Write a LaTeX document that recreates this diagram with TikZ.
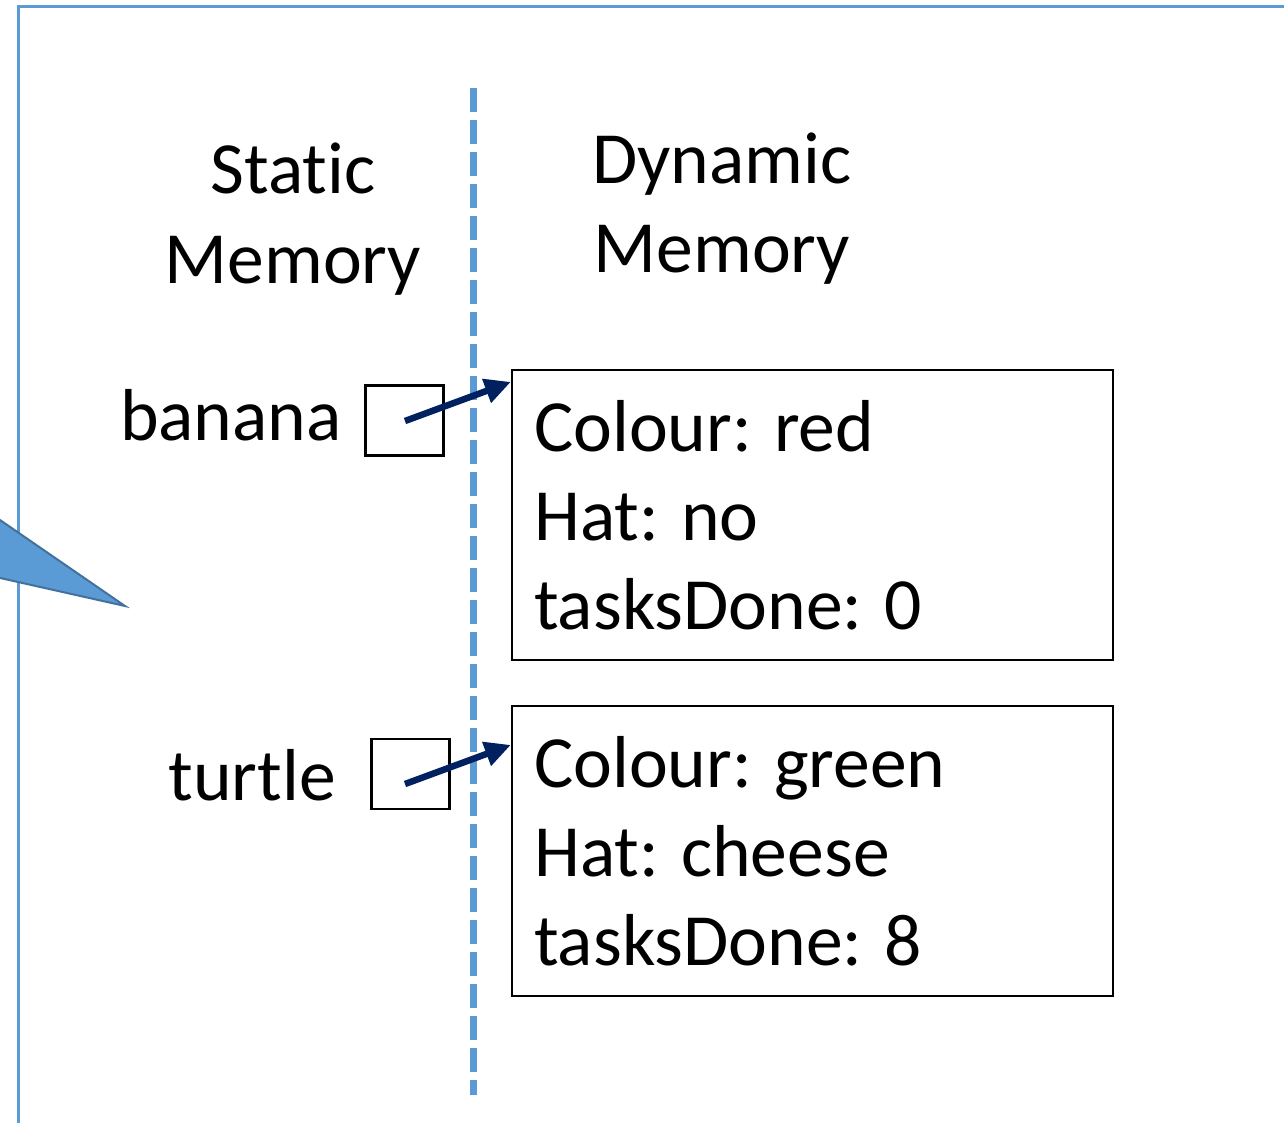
\documentclass[tikz,border=0pt]{standalone}
\usepackage{fontspec}
\setmainfont{Carlito}[Ligatures=NoCommon]
\usetikzlibrary{arrows.meta}
\definecolor{accblue}{HTML}{5B9BD5}
\definecolor{accdark}{HTML}{41719C}
\definecolor{navy}{HTML}{002060}
\begin{document}
\begin{tikzpicture}[x=1pt,y=-1pt,
  lbl/.style={font=\fontsize{73.6}{89}\selectfont, inner sep=0pt},
  ptr/.style={draw=black, line width=2.2pt, minimum width=78pt, minimum height=70pt, inner sep=0pt},
  obj/.style={draw=black, line width=2.2pt, minimum width=601pt, minimum height=290pt, inner sep=0pt},
  link/.style={navy, line width=6.5pt, -{Triangle[length=26pt,width=24pt]}}]
\useasboundingbox (0,0) rectangle (1284,1122);
\clip (0,0) rectangle (1284,1122);
% frame
\draw[accblue, line width=3pt] (18,1140) -- (18,6) -- (1300,6);
% callout tail
\filldraw[fill=accblue, draw=accdark, line width=2pt] (125,606) -- (-40,492.5) -- (-40,569) -- cycle;
% divider
\draw[accblue, line width=7pt, dash pattern=on 24pt off 8pt] (473,88) -- (473,1095);
% headings
\node[lbl, anchor=base] (st1) at (293,193) {Stat\kern0pt ic};
\node[lbl, anchor=base] (st2) at (293,283) {Memory};
\node[lbl, anchor=base] (dy1) at (722,183) {Dynamic};
\node[lbl, anchor=base] (dy2) at (722,272) {Memory};
% variables
\node[lbl, anchor=base east] (bn) at (342,440) {banana};
\node[ptr] (bbox) at (404.5,420.5) {};
\node[lbl, anchor=base east] (tt) at (336,800) {turtle};
\node[ptr] (tbox) at (410.5,774) {};
% objects
\node[obj] (o1) at (812.5,515) {};
\node[lbl, anchor=base west] (o1a) at (534,451) {Colour: red};
\node[lbl, anchor=base west] (o1b) at (534,540) {Hat: no};
\node[lbl, anchor=base west] (o1c) at (534,629) {tasksDone: 0};
\node[obj] (o2) at (812.5,851) {};
\node[lbl, anchor=base west] (o2a) at (534,787) {Colour: green};
\node[lbl, anchor=base west] (o2b) at (534,876) {Hat: cheese};
\node[lbl, anchor=base west] (o2c) at (534,965) {tasksDone: 8};
% pointers
\coordinate (b0) at (405,421);
\coordinate (t0) at (405,784);
\draw[link] (b0) -- ([yshift=-13pt]o1.north west);
\draw[link] (t0) -- ([yshift=-40pt]o2.north west);
\end{tikzpicture}
\end{document}
